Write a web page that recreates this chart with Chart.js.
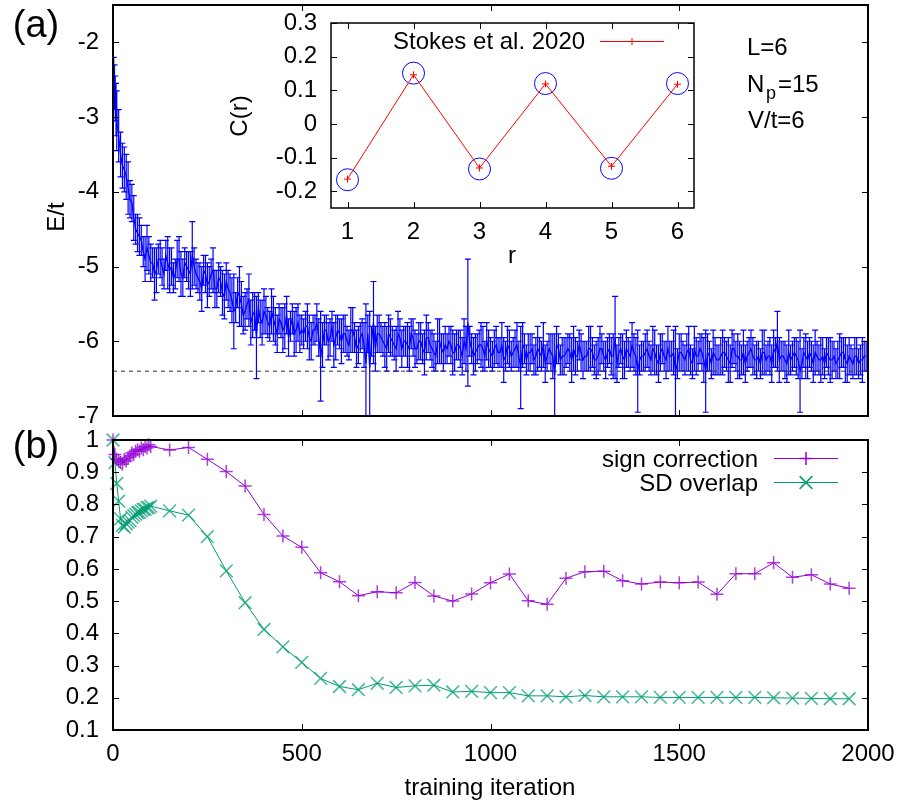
<!DOCTYPE html>
<html>
<head>
<meta charset="utf-8">
<script src="https://cdn.jsdelivr.net/npm/chart.js@4/dist/chart.umd.min.js"></script>
<style>
  html, body { margin: 0; padding: 0; background: #fff; }
  #wrap { position: relative; width: 901px; height: 807px; }
  canvas { position: absolute; }
</style>
</head>
<body>
<div id="wrap">
  <canvas id="energy" width="901" height="430" style="left:0px;top:0px"></canvas>
  <canvas id="overlap" width="901" height="387" style="left:0px;top:420px"></canvas>
  <canvas id="corr" width="490" height="260" style="left:220px;top:10px"></canvas>
</div>
<script>
// ---- data: panel (a), energy at steps 0,2,4,6,8 then every 10 ----
const energyMean = [
  -2.45, -2.4, -2.6, -2.75, -2.9,
  -3.05, -3.5, -3.7, -3.95, -4.15, -4.5, -4.6, -4.8, -4.75, -4.95,
  -5.1, -4.9, -5.0, -4.85, -5.05, -5.15, -4.9, -5.1, -4.95, -5.05,
  -4.85, -5.1, -5.2, -5.05, -5.25, -5.1, -5.3, -5.15, -5.35, -5.2,
  -5.35, -5.6, -5.35, -5.5, -5.6, -5.45, -5.65, -5.95, -5.7, -5.6,
  -5.75, -5.6, -5.8, -5.7, -5.85, -5.65, -5.8, -5.9, -5.75, -5.85,
  -5.8, -5.95, -5.85, -5.75, -6.2, -5.85, -6.0, -5.8, -5.95, -5.9,
  -5.9, -6.0, -5.85, -5.95, -6.05, -5.9, -6.3, -6.35, -5.75, -5.9,
  -5.95, -6.05, -5.9, -6.0, -6.1, -5.95, -6.0, -6.05, -5.9, -6.1,
  -6.0, -6.1, -5.95, -6.05, -6.15, -6.0, -6.1, -6.05, -6.0, -6.15,
  -6.05, -6.1, -6.0, -5.75, -6.1, -6.15, -6.05, -6.1, -6.0, -6.15,
  -6.1, -6.15, -6.05, -6.2, -6.1, -6.15, -6.05, -6.35, -6.1, -6.15,
  -6.1, -6.2, -6.15, -6.05, -6.2, -6.15, -6.45, -6.1, -6.2, -6.15,
  -6.15, -6.1, -6.2, -6.15, -6.2, -6.1, -6.15, -6.25, -6.1, -6.2,
  -6.15, -6.2, -5.95, -6.15, -6.2, -6.1, -6.2, -6.15, -6.4, -6.2,
  -6.15, -6.2, -6.1, -6.25, -6.15, -6.2, -6.1, -6.2, -6.4, -6.15,
  -6.2, -6.15, -6.25, -6.1, -6.2, -6.15, -6.4, -6.2, -6.15, -6.25,
  -6.2, -6.15, -6.25, -6.1, -6.2, -6.25, -6.15, -6.2, -6.1, -6.25,
  -6.2, -6.15, -6.25, -6.2, -6.1, -6.0, -6.2, -6.25, -6.15, -6.2,
  -6.2, -6.4, -6.15, -6.25, -6.2, -6.15, -6.25, -6.2, -6.15, -6.25,
  -6.2, -6.25, -6.15, -6.25, -6.2, -6.3, -6.2, -6.25, -6.2
];
const energyErr = [
  0.25, 0.2, 0.3, 0.3, 0.35,
  0.4, 0.3, 0.3, 0.35, 0.25, 0.2, 0.25, 0.2, 0.3, 0.25,
  0.35, 0.2, 0.25, 0.2, 0.3, 0.2, 0.25, 0.3, 0.2, 0.25,
  0.45, 0.2, 0.25, 0.2, 0.3, 0.2, 0.25, 0.2, 0.3, 0.25,
  0.25, 0.5, 0.2, 0.3, 0.25, 0.35, 0.3, 0.55, 0.25, 0.3,
  0.2, 0.3, 0.25, 0.2, 0.3, 0.25, 0.2, 0.3, 0.25, 0.2,
  0.2, 0.3, 0.2, 0.25, 0.6, 0.2, 0.25, 0.2, 0.3, 0.2,
  0.25, 0.2, 0.3, 0.2, 0.25, 0.2, 0.8, 0.75, 0.55, 0.25,
  0.2, 0.3, 0.25, 0.2, 0.3, 0.25, 0.2, 0.3, 0.2, 0.25,
  0.25, 0.2, 0.3, 0.2, 0.25, 0.3, 0.2, 0.25, 0.2, 0.3,
  0.2, 0.25, 0.3, 0.85, 0.2, 0.25, 0.2, 0.3, 0.25, 0.2,
  0.25, 0.2, 0.3, 0.2, 0.25, 0.2, 0.3, 0.55, 0.2, 0.25,
  0.2, 0.25, 0.2, 0.3, 0.2, 0.25, 0.55, 0.2, 0.25, 0.2,
  0.25, 0.3, 0.2, 0.25, 0.2, 0.3, 0.2, 0.25, 0.3, 0.2,
  0.2, 0.25, 0.55, 0.2, 0.3, 0.25, 0.2, 0.25, 0.55, 0.2,
  0.25, 0.2, 0.3, 0.2, 0.25, 0.2, 0.3, 0.2, 0.6, 0.25,
  0.2, 0.25, 0.2, 0.3, 0.2, 0.25, 0.55, 0.2, 0.3, 0.2,
  0.25, 0.2, 0.3, 0.25, 0.2, 0.25, 0.3, 0.2, 0.25, 0.2,
  0.2, 0.3, 0.2, 0.25, 0.25, 0.4, 0.2, 0.25, 0.3, 0.2,
  0.25, 0.55, 0.2, 0.25, 0.2, 0.3, 0.2, 0.25, 0.2, 0.3,
  0.2, 0.25, 0.2, 0.3, 0.25, 0.2, 0.25, 0.2, 0.2
];
// the in-between steps 15, 25, ..., 1995
const energyMeanMid = [
  -3.25, -3.65, -3.8, -4.1, -4.35, -4.55, -4.65, -4.9, -4.85,
  -4.95, -5.05, -4.9, -5.1, -4.95, -5.0, -5.1, -4.9, -5.15, -5.0,
  -5.1, -5.0, -5.15, -5.3, -5.1, -5.2, -5.05, -5.3, -5.2, -5.4,
  -5.3, -5.45, -5.55, -5.4, -5.65, -5.5, -5.75, -5.6, -5.55, -5.75,
  -5.65, -5.8, -5.7, -5.9, -5.75, -5.8, -5.95, -5.7, -5.85, -5.9,
  -5.9, -5.8, -6.0, -5.85, -5.95, -6.05, -5.85, -5.95, -6.05, -5.85,
  -6.0, -5.9, -6.05, -5.85, -6.1, -5.95, -6.05, -5.9, -6.0, -6.1,
  -5.9, -6.0, -6.1, -5.95, -6.05, -5.9, -6.1, -6.0, -6.1, -5.95,
  -6.1, -6.0, -6.15, -5.95, -6.1, -6.2, -6.0, -6.15, -6.1, -6.05,
  -6.15, -6.05, -6.2, -6.1, -6.0, -6.2, -6.1, -6.05, -6.2, -6.1,
  -6.2, -6.05, -6.15, -6.25, -6.05, -6.2, -6.1, -6.2, -6.05, -6.25,
  -6.15, -6.25, -6.1, -6.2, -6.3, -6.1, -6.2, -6.05, -6.25, -6.2,
  -6.1, -6.25, -6.2, -6.05, -6.25, -6.2, -6.1, -6.25, -6.2, -6.1,
  -6.25, -6.1, -6.2, -6.3, -6.1, -6.25, -6.15, -6.05, -6.2, -6.25,
  -6.2, -6.1, -6.25, -6.15, -6.3, -6.1, -6.25, -6.2, -6.15, -6.3,
  -6.15, -6.25, -6.1, -6.3, -6.2, -6.1, -6.25, -6.15, -6.3, -6.2,
  -6.25, -6.15, -6.2, -6.3, -6.1, -6.2, -6.25, -6.3, -6.15, -6.2,
  -6.25, -6.3, -6.15, -6.2, -6.3, -6.15, -6.25, -6.2, -6.3, -6.25,
  -6.15, -6.25, -6.3, -6.2, -6.15, -6.3, -6.2, -6.25, -6.3, -6.2,
  -6.25, -6.3, -6.2, -6.15, -6.3, -6.25, -6.2, -6.3, -6.25, -6.2
];
const energyErrMid = [
  0.35, 0.3, 0.3, 0.25, 0.3, 0.25, 0.2, 0.3, 0.25,
  0.2, 0.3, 0.25, 0.2, 0.35, 0.25, 0.2, 0.3, 0.25, 0.2,
  0.3, 0.25, 0.2, 0.3, 0.25, 0.2, 0.3, 0.25, 0.2, 0.3,
  0.25, 0.3, 0.2, 0.4, 0.25, 0.2, 0.3, 0.25, 0.2, 0.3,
  0.25, 0.2, 0.3, 0.25, 0.2, 0.3, 0.25, 0.2, 0.3, 0.25,
  0.2, 0.3, 0.25, 0.2, 0.25, 0.3, 0.2, 0.25, 0.3, 0.2,
  0.3, 0.25, 0.2, 0.3, 0.25, 0.2, 0.3, 0.25, 0.2, 0.3,
  0.25, 0.2, 0.3, 0.25, 0.2, 0.3, 0.25, 0.2, 0.3, 0.25,
  0.2, 0.25, 0.3, 0.2, 0.25, 0.2, 0.3, 0.25, 0.2, 0.25,
  0.25, 0.2, 0.25, 0.3, 0.2, 0.25, 0.2, 0.3, 0.2, 0.25,
  0.2, 0.25, 0.2, 0.3, 0.25, 0.2, 0.25, 0.2, 0.3, 0.2,
  0.25, 0.2, 0.3, 0.2, 0.25, 0.2, 0.3, 0.25, 0.2, 0.25,
  0.2, 0.3, 0.25, 0.2, 0.25, 0.2, 0.3, 0.2, 0.25, 0.2,
  0.25, 0.2, 0.3, 0.25, 0.2, 0.25, 0.2, 0.3, 0.25, 0.2,
  0.2, 0.25, 0.2, 0.3, 0.25, 0.2, 0.25, 0.2, 0.3, 0.2,
  0.25, 0.2, 0.3, 0.2, 0.25, 0.2, 0.3, 0.25, 0.2, 0.25,
  0.2, 0.3, 0.2, 0.25, 0.2, 0.3, 0.2, 0.25, 0.2, 0.25,
  0.25, 0.2, 0.3, 0.2, 0.25, 0.2, 0.3, 0.2, 0.25, 0.2,
  0.2, 0.25, 0.2, 0.3, 0.2, 0.25, 0.2, 0.3, 0.2, 0.25,
  0.25, 0.2, 0.3, 0.2, 0.25, 0.2, 0.25, 0.2, 0.3, 0.2
];
const energyIterMain = energyMean.map((_, i) => (i < 5 ? i * 2 : (i - 4) * 10));
const energyIterMid = energyMeanMid.map((_, i) => 15 + i * 10);
const groundStateEnergy = -6.4;
const energyTicksY = [-7, -6, -5, -4, -3, -2];

// merge both samplings in training order
const energyRows = energyIterMain.map((x, i) => [x, energyMean[i], energyErr[i]])
  .concat(energyIterMid.map((x, i) => [x, energyMeanMid[i], energyErrMid[i]]))
  .sort((a, b) => a[0] - b[0]);
const energyIter = energyRows.map((r) => r[0]);
const energyY = energyRows.map((r) => r[1]);
const energyE = energyRows.map((r) => r[2]);

// ---- data: panel (b) ----
const overlapIter = [
  0, 5, 10, 15, 20, 25, 30, 35, 40, 45, 50, 55, 60, 65, 70, 75, 80, 85, 90, 95, 100,
  150, 200, 250, 300, 350, 400, 450, 500, 550, 600, 650, 700, 750, 800, 850, 900, 950,
  1000, 1050, 1100, 1150, 1200, 1250, 1300, 1350, 1400, 1450, 1500, 1550, 1600, 1650,
  1700, 1750, 1800, 1850, 1900, 1950
];
const signCorrection = [
  1.0, 0.955, 0.94, 0.935, 0.93, 0.925, 0.94, 0.935, 0.945, 0.95, 0.96, 0.955, 0.965,
  0.97, 0.965, 0.975, 0.97, 0.98, 0.975, 0.985, 0.98,
  0.969, 0.977, 0.94, 0.902, 0.857, 0.769, 0.702, 0.667, 0.588, 0.56, 0.517, 0.529,
  0.526, 0.558, 0.516, 0.5, 0.522, 0.557, 0.584, 0.501, 0.49, 0.571, 0.591, 0.593,
  0.563, 0.553, 0.559, 0.557, 0.559, 0.521, 0.585, 0.585, 0.619, 0.574, 0.582, 0.553, 0.54
];
const sdOverlap = [
  1.0, 0.93, 0.865, 0.81, 0.755, 0.735, 0.73, 0.74, 0.745, 0.75, 0.76, 0.765, 0.77,
  0.775, 0.775, 0.78, 0.785, 0.785, 0.79, 0.79, 0.795,
  0.78, 0.767, 0.7, 0.594, 0.495, 0.412, 0.358, 0.31, 0.26, 0.235, 0.225, 0.245,
  0.232, 0.237, 0.239, 0.218, 0.22, 0.216, 0.216, 0.206, 0.206, 0.203, 0.207, 0.203,
  0.203, 0.203, 0.201, 0.201, 0.201, 0.201, 0.201, 0.201, 0.2, 0.199, 0.198, 0.197, 0.197
];
const iterTicks = [0, 500, 1000, 1500, 2000];
const overlapTicksY = [0.1, 0.2, 0.3, 0.4, 0.5, 0.6, 0.7, 0.8, 0.9, 1];

// ---- data: inset ----
const corrR = [1, 2, 3, 4, 5, 6];
const corrStokes = [-0.164, 0.146, -0.131, 0.119, -0.126, 0.118];
const corrOurs = [-0.166, 0.151, -0.134, 0.12, -0.132, 0.12];
const corrTicksY = [-0.2, -0.1, 0, 0.1, 0.2, 0.3];

const FONT = '24px "Liberation Sans", Arial, sans-serif';
const BIG = '38px "Liberation Sans", Arial, sans-serif';
const PURPLE = '#9400d3';
const GREEN = '#009e73';

// fixed axis boxes so the plot areas land where the original has them
const fixWidth = (w) => (s) => { s.width = w; s.paddingTop = 0; s.paddingBottom = 0; };
const fixHeight = (h) => (s) => { s.height = h; s.paddingLeft = 0; s.paddingRight = 0; };
const useTicks = (vals) => (s) => { s.ticks = vals.map((v) => ({ value: v })); };

// vertical error bars with caps, under the line
const errorBars = {
  id: 'errorBars',
  beforeDatasetsDraw(chart, args, opts) {
    const { ctx, chartArea: a, scales: { x, y } } = chart;
    ctx.save();
    ctx.beginPath();
    ctx.rect(a.left, a.top, a.right - a.left, a.bottom - a.top);
    ctx.clip();
    ctx.strokeStyle = opts.color;
    ctx.lineWidth = opts.width;
    ctx.beginPath();
    opts.xs.forEach((it, i) => {
      const px = x.getPixelForValue(it);
      const hi = y.getPixelForValue(opts.mean[i] + opts.err[i]);
      const lo = y.getPixelForValue(opts.mean[i] - opts.err[i]);
      ctx.moveTo(px, hi); ctx.lineTo(px, lo);
      ctx.moveTo(px - opts.cap, hi); ctx.lineTo(px + opts.cap, hi);
      ctx.moveTo(px - opts.cap, lo); ctx.lineTo(px + opts.cap, lo);
    });
    ctx.stroke();
    ctx.restore();
  }
};

// gnuplot style border with inward ticks on all four sides
const frame = {
  id: 'frame',
  afterDraw(chart, args, opts) {
    const { ctx, chartArea: a, scales: { x, y } } = chart;
    const L = opts.len;
    ctx.save();
    ctx.strokeStyle = '#000';
    ctx.lineWidth = 1;
    ctx.beginPath();
    opts.xTicks.forEach((v) => {
      const px = Math.round(x.getPixelForValue(v)) + 0.5;
      ctx.moveTo(px, a.bottom); ctx.lineTo(px, a.bottom - L);
      ctx.moveTo(px, a.top); ctx.lineTo(px, a.top + L);
    });
    opts.yTicks.forEach((v) => {
      const py = Math.round(y.getPixelForValue(v)) + 0.5;
      ctx.moveTo(a.left, py); ctx.lineTo(a.left + L, py);
      ctx.moveTo(a.right, py); ctx.lineTo(a.right - L, py);
    });
    ctx.stroke();
    ctx.lineWidth = opts.width;
    ctx.strokeRect(a.left, a.top, a.right - a.left, a.bottom - a.top);
    ctx.restore();
  }
};

function marker(ctx, style, r, cx, cy) {
  ctx.beginPath();
  if (style === 'cross') {
    ctx.moveTo(cx - r, cy); ctx.lineTo(cx + r, cy);
    ctx.moveTo(cx, cy - r); ctx.lineTo(cx, cy + r);
  } else {
    const d = r * Math.SQRT1_2;
    ctx.moveTo(cx - d, cy - d); ctx.lineTo(cx + d, cy + d);
    ctx.moveTo(cx - d, cy + d); ctx.lineTo(cx + d, cy - d);
  }
  ctx.stroke();
}

// free text and gnuplot-like keys (text, then line sample with marker)
const annotate = {
  id: 'annotate',
  afterDraw(chart, args, opts) {
    const ctx = chart.ctx;
    ctx.save();
    ctx.fillStyle = '#000';
    (opts.texts || []).forEach((t) => {
      ctx.save();
      ctx.font = t.font || FONT;
      ctx.textAlign = t.align || 'left';
      ctx.textBaseline = t.baseline || 'alphabetic';
      ctx.translate(t.x, t.y);
      if (t.rotate) ctx.rotate(t.rotate);
      ctx.fillText(t.text, 0, 0);
      ctx.restore();
    });
    (opts.keys || []).forEach((k) => {
      ctx.font = FONT;
      ctx.textAlign = 'right';
      ctx.textBaseline = 'alphabetic';
      ctx.fillText(k.text, k.textX, k.baseline);
      ctx.strokeStyle = k.color;
      ctx.lineWidth = 1;
      ctx.beginPath();
      ctx.moveTo(k.x0, k.y); ctx.lineTo(k.x1, k.y);
      ctx.stroke();
      ctx.lineWidth = k.markerWidth;
      marker(ctx, k.style, k.radius, (k.x0 + k.x1) / 2, k.y);
    });
    ctx.restore();
  }
};

const tickFont = { family: '"Liberation Sans", Arial, sans-serif', size: 24 };
const label = (v) => String(v);

// ---- panel (a) ----
new Chart(document.getElementById('energy'), {
  type: 'line',
  data: {
    datasets: [
      {
        data: [{ x: 0, y: groundStateEnergy }, { x: 2000, y: groundStateEnergy }],
        borderColor: '#333',
        borderWidth: 1,
        borderDash: [4, 4],
        pointRadius: 0,
        order: 0
      },
      {
        data: energyIter.map((x, i) => ({ x, y: energyY[i] })),
        borderColor: '#0000ff',
        borderWidth: 1.3,
        pointRadius: 0,
        order: 1
      }
    ]
  },
  options: {
    responsive: false,
    animation: false,
    devicePixelRatio: 1,
    events: [],
    layout: { padding: { left: 0, top: 5, right: 33, bottom: 14 } },
    plugins: {
      legend: { display: false },
      tooltip: { enabled: false },
      errorBars: { xs: energyIter, mean: energyY, err: energyE, color: '#0000ff', width: 1.2, cap: 3 },
      frame: { xTicks: iterTicks, yTicks: energyTicksY, len: 6, width: 2 },
      annotate: {
        texts: [
          { text: '(a)', x: 36, y: 27, font: BIG, align: 'center', baseline: 'middle' },
          { text: 'E/t', x: 57, y: 217, align: 'center', baseline: 'middle', rotate: -Math.PI / 2 },
          { text: 'L=6', x: 747, y: 55 },
          { text: 'N', x: 747, y: 92 },
          { text: 'p', x: 766, y: 99, font: '18px "Liberation Sans", Arial, sans-serif' },
          { text: '=15', x: 778, y: 92 },
          { text: 'V/t=6', x: 748, y: 128 }
        ]
      }
    },
    scales: {
      x: { type: 'linear', min: 0, max: 2000, display: false },
      y: {
        type: 'linear',
        min: -7,
        max: -1.5,
        afterBuildTicks: useTicks(energyTicksY),
        afterFit: fixWidth(113),
        grid: { display: false, drawTicks: false },
        border: { display: false },
        ticks: { font: tickFont, color: '#000', padding: 14, callback: label }
      }
    }
  },
  plugins: [errorBars, frame, annotate]
});

// ---- panel (b) ----
new Chart(document.getElementById('overlap'), {
  type: 'line',
  data: {
    datasets: [
      {
        label: 'sign correction',
        data: overlapIter.map((x, i) => ({ x, y: signCorrection[i] })),
        borderColor: PURPLE,
        borderWidth: 1,
        pointStyle: 'cross',
        pointRadius: 6.5,
        pointBorderWidth: 1.5,
        pointBorderColor: 'rgba(148,0,211,0.75)',
        clip: false
      },
      {
        label: 'SD overlap',
        data: overlapIter.map((x, i) => ({ x, y: sdOverlap[i] })),
        borderColor: GREEN,
        borderWidth: 1,
        pointStyle: 'crossRot',
        pointRadius: 9,
        pointBorderWidth: 1.5,
        pointBorderColor: 'rgba(0,158,115,0.75)',
        clip: false
      }
    ]
  },
  options: {
    responsive: false,
    animation: false,
    devicePixelRatio: 1,
    events: [],
    layout: { padding: { left: 0, top: 20, right: 33, bottom: 0 } },
    plugins: {
      legend: { display: false },
      tooltip: { enabled: false },
      frame: { xTicks: iterTicks, yTicks: overlapTicksY, len: 6, width: 2 },
      annotate: {
        texts: [
          { text: '(b)', x: 36, y: 28, font: BIG, align: 'center', baseline: 'middle' },
          { text: 'training iteration', x: 490, y: 368, align: 'center', baseline: 'middle' }
        ],
        keys: [
          { text: 'sign correction', textX: 758, baseline: 47, x0: 774, x1: 838, y: 38.5, color: PURPLE, style: 'cross', radius: 6.5, markerWidth: 1.5 },
          { text: 'SD overlap', textX: 758, baseline: 71, x0: 774, x1: 838, y: 62.5, color: GREEN, style: 'crossRot', radius: 9, markerWidth: 1.5 }
        ]
      }
    },
    scales: {
      x: {
        type: 'linear',
        min: 0,
        max: 2000,
        afterBuildTicks: useTicks(iterTicks),
        afterFit: fixHeight(77),
        grid: { display: false, drawTicks: false },
        border: { display: false },
        ticks: { font: tickFont, color: '#000', padding: 10, maxRotation: 0, callback: label }
      },
      y: {
        type: 'linear',
        min: 0.1,
        max: 1,
        afterBuildTicks: useTicks(overlapTicksY),
        afterFit: fixWidth(113),
        grid: { display: false, drawTicks: false },
        border: { display: false },
        ticks: { font: tickFont, color: '#000', padding: 14, callback: label }
      }
    }
  },
  plugins: [frame, annotate]
});

// ---- inset: C(r) ----
new Chart(document.getElementById('corr'), {
  type: 'line',
  data: {
    datasets: [
      {
        label: 'Stokes et al. 2020',
        data: corrR.map((x, i) => ({ x, y: corrStokes[i] })),
        borderColor: '#ff0000',
        borderWidth: 1,
        pointStyle: 'cross',
        pointRadius: 3.5,
        pointBorderWidth: 1,
        order: 0
      },
      {
        data: corrR.map((x, i) => ({ x, y: corrOurs[i] })),
        showLine: false,
        pointStyle: 'circle',
        pointRadius: 11,
        pointBorderWidth: 1,
        pointBorderColor: '#0000ff',
        pointBackgroundColor: 'rgba(0,0,0,0)',
        order: 1
      }
    ]
  },
  options: {
    responsive: false,
    animation: false,
    devicePixelRatio: 1,
    events: [],
    layout: { padding: { left: 0, top: 13, right: 16, bottom: 0 } },
    plugins: {
      legend: { display: false },
      tooltip: { enabled: false },
      frame: { xTicks: corrR, yTicks: corrTicksY, len: 6, width: 1.5 },
      annotate: {
        texts: [
          { text: 'Stokes et al. 2020', x: 173, y: 39 },
          { text: 'C(r)', x: 20, y: 106, align: 'center', baseline: 'middle', rotate: -Math.PI / 2 },
          { text: 'r', x: 292, y: 246, align: 'center', baseline: 'middle' }
        ],
        keys: [
          { text: '', textX: 0, baseline: 0, x0: 380, x1: 444, y: 31.5, color: '#ff0000', style: 'cross', radius: 3.5, markerWidth: 1 }
        ]
      }
    },
    scales: {
      x: {
        type: 'linear',
        min: 0.75,
        max: 6.25,
        afterBuildTicks: useTicks(corrR),
        afterFit: fixHeight(62),
        grid: { display: false, drawTicks: false },
        border: { display: false },
        ticks: { font: tickFont, color: '#000', padding: 10, maxRotation: 0, callback: label }
      },
      y: {
        type: 'linear',
        min: -0.25,
        max: 0.3,
        afterBuildTicks: useTicks(corrTicksY),
        afterFit: fixWidth(111),
        grid: { display: false, drawTicks: false },
        border: { display: false },
        ticks: { font: tickFont, color: '#000', padding: 14, callback: label }
      }
    }
  },
  plugins: [frame, annotate]
});
</script>
</body>
</html>
